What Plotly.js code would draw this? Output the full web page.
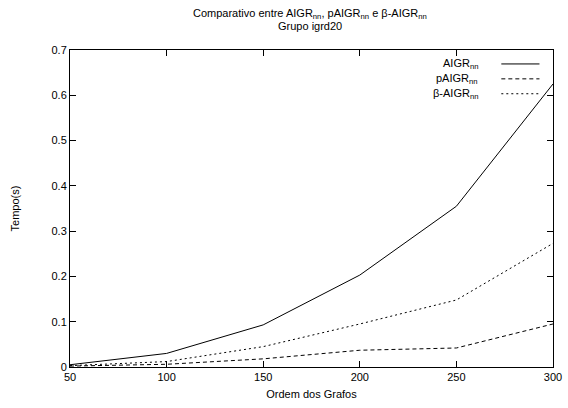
<!DOCTYPE html>
<html>
<head>
<meta charset="utf-8">
<script src="https://cdn.plot.ly/plotly-3.0.1.min.js"></script>
<style>html,body{margin:0;padding:0;background:#fff}</style>
</head>
<body>
<div id="chart" style="width:568px;height:408px"></div>
<script>
const ordem = [50, 100, 150, 200, 250, 300];
const aigr = [0.005, 0.030, 0.093, 0.203, 0.355, 0.625];
const paigr = [0.002, 0.006, 0.018, 0.037, 0.042, 0.095];
const betaAigr = [0.003, 0.012, 0.045, 0.095, 0.148, 0.273];
const seriesNames = ['AIGR<sub>nn</sub>', 'pAIGR<sub>nn</sub>', 'β-AIGR<sub>nn</sub>'];
const xTicks = [50, 100, 150, 200, 250, 300];
const yTicks = [0, 0.1, 0.2, 0.3, 0.4, 0.5, 0.6, 0.7];

const font = {family: 'Liberation Sans, Arial, sans-serif', size: 11, color: '#000'};
const dashes = ['solid', '4px,3px', '2px,3px'];
const data = [aigr, paigr, betaAigr].map((ys, i) => ({
  x: ordem, y: ys, type: 'scatter', mode: 'lines', name: seriesNames[i],
  line: {color: '#000', width: 1, dash: dashes[i]}, showlegend: false
}));

const legendY = [0.956, 0.909, 0.862];
const annotations = seriesNames.map((n, i) => ({
  xref: 'paper', yref: 'paper', x: 0.848, y: legendY[i], text: n,
  showarrow: false, xanchor: 'right', yanchor: 'middle', font: font
}));
annotations.push({
  xref: 'paper', yref: 'paper', x: 0.497, y: 1.114, xanchor: 'center', yanchor: 'middle',
  showarrow: false, font: font,
  text: 'Comparativo entre AIGR<sub>nn</sub>, pAIGR<sub>nn</sub> e β-AIGR<sub>nn</sub>'
});
annotations.push({
  xref: 'paper', yref: 'paper', x: 0.497, y: 1.077, xanchor: 'center', yanchor: 'middle',
  showarrow: false, font: font, text: 'Grupo igrd20'
});
const shapes = dashes.map((d, i) => ({
  type: 'line', xref: 'paper', yref: 'paper', x0: 0.893, x1: 0.972,
  y0: legendY[i], y1: legendY[i], line: {color: '#000', width: 1, dash: d}
}));

const layout = {
  width: 568, height: 408,
  margin: {l: 70, r: 15, t: 50, b: 41},
  paper_bgcolor: '#fff', plot_bgcolor: '#fff',
  font: font,
  xaxis: {range: [50, 300], tickvals: xTicks, ticks: 'inside', ticklen: 6, tickcolor: '#000',
    showline: true, linecolor: '#000', linewidth: 1, mirror: 'ticks', showgrid: false, zeroline: false,
    tickfont: font, title: {text: 'Ordem dos Grafos', font: font, standoff: 8}},
  yaxis: {range: [0, 0.7], tickvals: yTicks, ticktext: yTicks.map(v => String(v)), ticks: 'inside', ticklen: 6, tickcolor: '#000',
    showline: true, linecolor: '#000', linewidth: 1, mirror: 'ticks', showgrid: false, zeroline: false,
    tickfont: font, title: {text: 'Tempo(s)', font: font, standoff: 29}},
  annotations: annotations,
  shapes: shapes,
  showlegend: false
};
Plotly.newPlot('chart', data, layout, {displayModeBar: false, staticPlot: true});
</script>
</body>
</html>
